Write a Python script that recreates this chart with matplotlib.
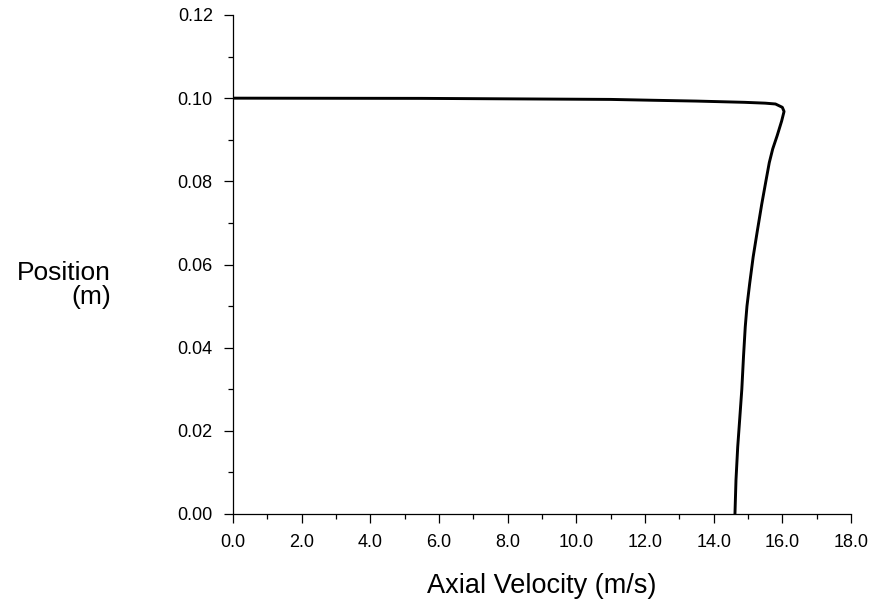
import matplotlib
matplotlib.use("Agg")
from matplotlib import pyplot as plt
from matplotlib.ticker import MultipleLocator, FormatStrFormatter

# axial velocity (m/s) vs position (m)
velocity = [0.0, 5.5, 11.0, 12.2, 13.5, 14.9, 15.5, 15.8, 16.0, 16.05, 15.98,
            15.85, 15.72, 15.62, 15.52, 15.4, 15.27, 15.15, 15.05, 14.97,
            14.92, 14.87, 14.82, 14.76, 14.70, 14.65, 14.62]
position = [0.1000, 0.09995, 0.0997, 0.0995, 0.0993, 0.0990, 0.0988, 0.0986,
            0.0978, 0.0968, 0.0945, 0.0910, 0.0878, 0.0845, 0.0800, 0.0745,
            0.0680, 0.0618, 0.0555, 0.0500, 0.0450, 0.0380, 0.0300, 0.0230,
            0.0161, 0.0082, 0.0]

plt.rcParams['font.family'] = ['Liberation Sans', 'DejaVu Sans']

fig = plt.figure(figsize=(8.72, 6.03), dpi=100)
ax = fig.add_axes([233 / 872, 89 / 603, 618 / 872, 499 / 603])

ax.plot(velocity, position, color='black', linewidth=2.1, solid_joinstyle='round')

ax.set_xlim(0, 18)
ax.set_ylim(0, 0.12)
ax.xaxis.set_major_locator(MultipleLocator(2))
ax.xaxis.set_minor_locator(MultipleLocator(1))
ax.yaxis.set_major_locator(MultipleLocator(0.02))
ax.yaxis.set_minor_locator(MultipleLocator(0.01))
ax.xaxis.set_major_formatter(FormatStrFormatter('%.1f'))
ax.yaxis.set_major_formatter(FormatStrFormatter('%.2f'))

for s in ['top', 'right']:
    ax.spines[s].set_visible(False)
for s in ['left', 'bottom']:
    ax.spines[s].set_linewidth(0.9)
    ax.spines[s].set_clip_on(False)

ax.tick_params(which='major', direction='out', length=6.5, width=0.9, pad=8,
               labelsize=13, colors='black')
ax.tick_params(which='minor', direction='out', length=3.3, width=0.9)

fig.text(542 / 872, 1 - 593 / 603, 'Axial Velocity (m/s)', ha='center',
         va='baseline', fontsize=19.5)
fig.text(111 / 872, 1 - 285 / 603, 'Position\n(m)', ha='right', va='center',
         fontsize=19, multialignment='right', linespacing=1.0)

fig.savefig("out.png", dpi=100)
